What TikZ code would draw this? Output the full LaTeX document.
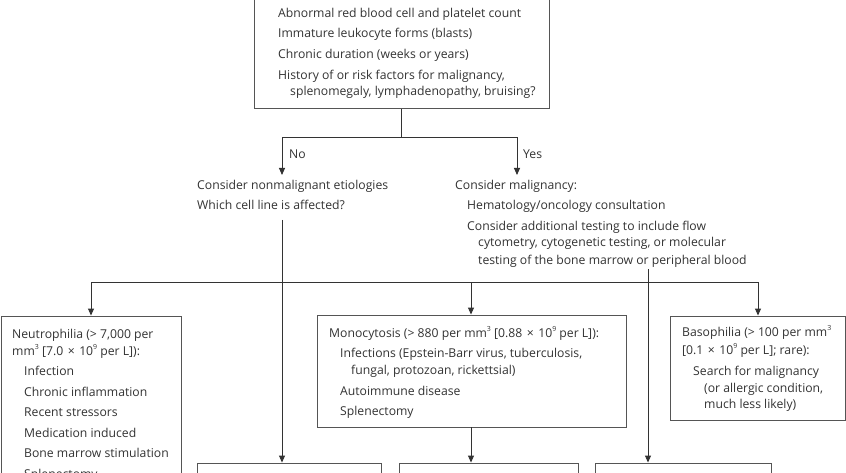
\documentclass[tikz,border=0pt]{standalone}
\usepackage{fontspec}
\setmainfont{Open Sans}
\usetikzlibrary{arrows.meta}
\definecolor{ink}{HTML}{333333}
\definecolor{edge}{HTML}{555555}
\newcommand{\sups}[1]{\raisebox{0.45em}{\fontsize{7}{7}\selectfont #1}}
\newcommand{\tms}{\hspace{4.5pt}×\hspace{4.5pt}}
\begin{document}
\begin{tikzpicture}[x=1pt,y=-1pt,
  txt/.style={anchor=base west, inner sep=0pt, font=\fontsize{12.2}{13}\selectfont, text=ink},
  box/.style={draw=edge, line width=0.9pt, inner sep=0pt, rectangle},
  ln/.style={draw=ink, line width=0.9pt},
  arr/.style={ln, -{Triangle[length=7pt,width=6pt]}}]
\useasboundingbox (0,0) rectangle (846,473);
\fill[white] (0,0) rectangle (846,473);
% boxes
\node[box, minimum width=295pt, minimum height=138.7pt] (top) at (401.5,39.35) {};
\node[box, minimum width=180pt, minimum height=204pt] (neut) at (91,418) {};
\node[box, minimum width=309pt, minimum height=112pt] (mono) at (471.5,371) {};
\node[box, minimum width=175pt, minimum height=104pt] (baso) at (757.5,368) {};
\node[box, minimum width=184pt, minimum height=57pt] (b1) at (289,491.5) {};
\node[box, minimum width=179pt, minimum height=57pt] (b2) at (488.5,491.5) {};
\node[box, minimum width=176pt, minimum height=57pt] (b3) at (683,491.5) {};
% top box text
\node[txt] (a1) at (278,18) {Abnormal red blood cell and platelet count};
\node[txt] (a2) at (278,38) {Immature leukocyte forms (blasts)};
\node[txt] (a3) at (278,59) {Chronic duration (weeks or years)};
\node[txt] (a4) at (278,80) {History of or risk factors for malignancy,};
\node[txt] (a5) at (290,96) {splenomegaly, lymphadenopathy, bruising?};
% branch labels
\node[txt] (no) at (289,159) {No};
\node[txt] (yes) at (523,159) {Yes};
\node[txt] (n1) at (197,190) {Consider nonmalignant etiologies};
\node[txt] (n2) at (197,210) {Which cell line is affected?};
\node[txt] (m1) at (455,190) {Consider malignancy:};
\node[txt] (m2) at (467,210) {Hematology/oncology consultation};
\node[txt] (m3) at (467,231) {Consider additional testing to include flow};
\node[txt] (m4) at (478,247) {cytometry, cytogenetic testing, or molecular};
\node[txt] (m5) at (478,264) {testing of the bone marrow or peripheral blood};
% neutrophilia
\node[txt] (u1) at (12,338) {Neutrophilia (> 7,000 per};
\node[txt] (u2) at (12,355) {mm\sups{3} [7.0\tms{}10\sups{9} per L]):};
\node[txt] (u3) at (24,375) {Infection};
\node[txt] (u4) at (24,396) {Chronic inflammation};
\node[txt] (u5) at (24,416) {Recent stressors};
\node[txt] (u6) at (24,437) {Medication induced};
\node[txt] (u7) at (24,457) {Bone marrow stimulation};
\node[txt] (u8) at (24,478) {Splenectomy};
% monocytosis
\node[txt] (o1) at (329,337) {Monocytosis (> 880 per mm\sups{3} [0.88\tms{}10\sups{9} per L]):};
\node[txt] (o2) at (340,357) {Infections (Epstein-Barr virus, tuberculosis,};
\node[txt] (o3) at (351,374) {fungal, protozoan, rickettsial)};
\node[txt] (o4) at (340,395) {Autoimmune disease};
\node[txt] (o5) at (340,415) {Splenectomy};
% basophilia
\node[txt] (s1) at (682,336) {Basophilia (> 100 per mm\sups{3}};
\node[txt] (s2) at (682,354) {[0.1\tms{}10\sups{9} per L]; rare):};
\node[txt] (s3) at (693,375) {Search for malignancy};
\node[txt] (s4) at (704,392) {(or allergic condition,};
\node[txt] (s5) at (704,408) {much less likely)};
% coordinates
\coordinate (jTop) at (401.5,137);
\coordinate (noTip) at (282,175);
\coordinate (yesTip) at (517,175);
\coordinate (vL) at (282,220);
\coordinate (hL) at (91,282);
\coordinate (hM) at (471,282);
\coordinate (hR) at (758,282);
\coordinate (vR) at (648,269);
% connectors
\draw[ln] (top.south) -- (jTop);
\draw[arr] (jTop) -| (noTip);
\draw[arr] (jTop) -| (yesTip);
\draw[arr] (vL) -- (vL |- b1.north);
\draw[ln] (hL) -- (hR);
\draw[arr] (hL) -- (hL |- neut.north);
\draw[arr] (hM) -- (hM |- mono.north);
\draw[arr] (hR) -- (hR |- baso.north);
\draw[arr] (vR) -- (vR |- b3.north);
\draw[arr] (hM |- mono.south) -- (hM |- b2.north);
\end{tikzpicture}
\end{document}
